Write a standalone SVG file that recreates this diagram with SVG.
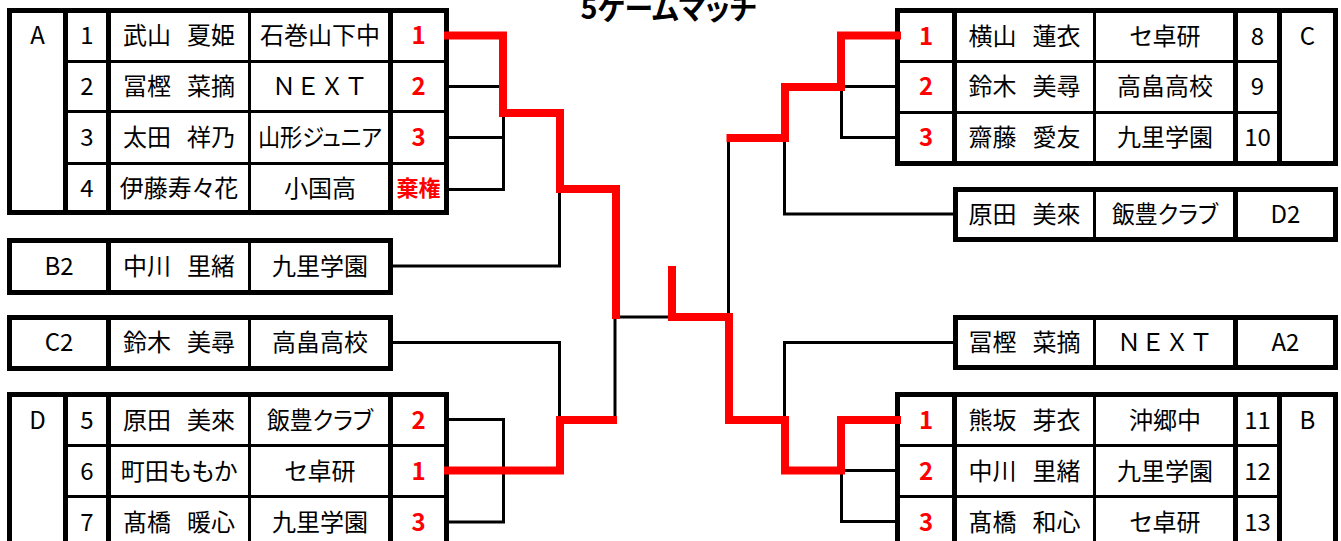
<svg xmlns="http://www.w3.org/2000/svg" width="1341" height="541" viewBox="0 0 1341 541">
<style>
text{font-family:"Noto Sans CJK JP","Noto Sans",sans-serif;font-size:24px;text-anchor:middle;fill:#000;font-feature-settings:"palt" 1;}
.s{fill:#ff0000;font-weight:bold;}
.k{font-size:22px;}
.fw{font-feature-settings:normal;}
.ttl{font-size:30px;font-weight:bold;}
.sp{font-size:16px;}
.b5{stroke:#000;stroke-width:5;fill:#fff;}
.l5{stroke:#000;stroke-width:5;fill:none;}
.l3{stroke:#000;stroke-width:3;fill:none;}
.con path{stroke:#000;stroke-width:3;fill:none;stroke-linejoin:miter;stroke-linecap:butt;}
.win path{stroke:#ff0000;stroke-width:8;fill:none;stroke-linejoin:miter;stroke-linecap:butt;}
</style>
<rect width="1341" height="541" fill="#fff"/>
<text id="title" class="ttl" x="668.5" y="19" textLength="176" lengthAdjust="spacingAndGlyphs">5ゲームマッチ</text>

<g id="table-A">
<rect class="b5" x="9.5" y="10.5" width="437" height="202"/>
<path class="l5" d="M65.5 10.5V212.5M108.5 10.5V212.5M390.5 10.5V212.5"/>
<path class="l3" d="M249.5 10.5V212.5M65.5 61.5H446.5M65.5 111.5H446.5M65.5 163.5H446.5"/>
<text x="37.5" y="44">A</text>
<text x="87" y="44">1</text><text x="179" y="44">武山<tspan class="sp">　</tspan>夏姫</text><text x="320" y="44">石巻山下中</text><text class="s" x="418.5" y="44">1</text>
<text x="87" y="95">2</text><text x="179" y="95">冨樫<tspan class="sp">　</tspan>菜摘</text><text class="fw" x="320" y="95">ＮＥＸＴ</text><text class="s" x="418.5" y="95">2</text>
<text x="87" y="146">3</text><text x="179" y="146">太田<tspan class="sp">　</tspan>祥乃</text><text x="320" y="146" textLength="124" lengthAdjust="spacingAndGlyphs">山形ジュニア</text><text class="s" x="418.5" y="146">3</text>
<text x="87" y="196.5">4</text><text x="179" y="196.5">伊藤寿々花</text><text x="320" y="196.5">小国高</text><text class="s k" x="418.5" y="196">棄権</text>
</g>

<g id="table-B2">
<rect class="b5" x="9.5" y="240.5" width="381" height="52"/>
<path class="l5" d="M108.5 240.5V292.5"/>
<path class="l3" d="M249.5 240.5V292.5"/>
<text x="59" y="274.5">B2</text><text x="179" y="274.5">中川<tspan class="sp">　</tspan>里緒</text><text x="320" y="274.5">九里学園</text>
</g>

<g id="table-C2">
<rect class="b5" x="9.5" y="317.5" width="381" height="51"/>
<path class="l5" d="M108.5 317.5V368.5"/>
<path class="l3" d="M249.5 317.5V368.5"/>
<text x="59" y="351">C2</text><text x="179" y="351">鈴木<tspan class="sp">　</tspan>美尋</text><text x="320" y="351">高畠高校</text>
</g>

<g id="table-D">
<rect class="b5" x="9.5" y="394.5" width="437" height="170"/>
<path class="l5" d="M65.5 394.5V564.5M108.5 394.5V564.5M390.5 394.5V564.5"/>
<path class="l3" d="M249.5 394.5V564.5M65.5 445.5H446.5M65.5 496.5H446.5"/>
<text x="37.5" y="428.5">D</text>
<text x="87" y="428.5">5</text><text x="179" y="428.5">原田<tspan class="sp">　</tspan>美來</text><text x="320" y="428.5" textLength="106" lengthAdjust="spacingAndGlyphs">飯豊クラブ</text><text class="s" x="418.5" y="428.5">2</text>
<text x="87" y="479.5">6</text><text x="179" y="479.5">町田ももか</text><text x="320" y="479.5">セ卓研</text><text class="s" x="418.5" y="479.5">1</text>
<text x="87" y="530.5">7</text><text x="179" y="530.5">髙橋<tspan class="sp">　</tspan>暖心</text><text x="320" y="530.5">九里学園</text><text class="s" x="418.5" y="530.5">3</text>
</g>

<g id="table-C">
<rect class="b5" x="897.5" y="10.5" width="438" height="153"/>
<path class="l5" d="M954.5 10.5V163.5M1235.5 10.5V163.5M1279.5 10.5V163.5"/>
<path class="l3" d="M1094.5 10.5V163.5M897.5 61.5H1279.5M897.5 112.5H1279.5"/>
<text class="s" x="926" y="44.5">1</text><text x="1024.5" y="44.5">横山<tspan class="sp">　</tspan>蓮衣</text><text x="1165" y="44.5">セ卓研</text><text x="1257.5" y="44.5">8</text><text x="1307.5" y="44.5">C</text>
<text class="s" x="926" y="95">2</text><text x="1024.5" y="95">鈴木<tspan class="sp">　</tspan>美尋</text><text x="1165" y="95">高畠高校</text><text x="1257.5" y="95">9</text>
<text class="s" x="926" y="146">3</text><text x="1024.5" y="146">齋藤<tspan class="sp">　</tspan>愛友</text><text x="1165" y="146">九里学園</text><text x="1257.5" y="146">10</text>
</g>

<g id="table-D2">
<rect class="b5" x="955.5" y="189.5" width="380" height="50"/>
<path class="l5" d="M1235.5 189.5V239.5"/>
<path class="l3" d="M1094.5 189.5V239.5"/>
<text x="1024.5" y="223">原田<tspan class="sp">　</tspan>美來</text><text x="1165" y="223" textLength="106" lengthAdjust="spacingAndGlyphs">飯豊クラブ</text><text x="1285.5" y="223">D2</text>
</g>

<g id="table-A2">
<rect class="b5" x="955.5" y="317.5" width="380" height="50"/>
<path class="l5" d="M1235.5 317.5V367.5"/>
<path class="l3" d="M1094.5 317.5V367.5"/>
<text x="1024.5" y="351">冨樫<tspan class="sp">　</tspan>菜摘</text><text class="fw" x="1165" y="351">ＮＥＸＴ</text><text x="1285.5" y="351">A2</text>
</g>

<g id="table-B">
<rect class="b5" x="897.5" y="394.5" width="438" height="170"/>
<path class="l5" d="M954.5 394.5V564.5M1235.5 394.5V564.5M1279.5 394.5V564.5"/>
<path class="l3" d="M1094.5 394.5V564.5M897.5 445.5H1279.5M897.5 496.5H1279.5"/>
<text class="s" x="926" y="428.5">1</text><text x="1024.5" y="428.5">熊坂<tspan class="sp">　</tspan>芽衣</text><text x="1165" y="428.5">沖郷中</text><text x="1257.5" y="428.5">11</text><text x="1307.5" y="428.5">B</text>
<text class="s" x="926" y="479.5">2</text><text x="1024.5" y="479.5">中川<tspan class="sp">　</tspan>里緒</text><text x="1165" y="479.5">九里学園</text><text x="1257.5" y="479.5">12</text>
<text class="s" x="926" y="530.5">3</text><text x="1024.5" y="530.5">髙橋<tspan class="sp">　</tspan>和心</text><text x="1165" y="530.5">セ卓研</text><text x="1257.5" y="530.5">13</text>
</g>

<g id="connectors">
<g class="con">
<path d="M449 86.5H503"/>
<path d="M449 137.5H503.5M449 189.5H503.5V113"/>
<path d="M393 266H559.5V189"/>
<path d="M393 342.5H559.5V420"/>
<path d="M449 419.5H503.5V522H449"/>
<path d="M615 319V420"/>
<path d="M616 317H668"/>
<path d="M728.5 141V313"/>
<path d="M845 86.5H896"/>
<path d="M896 137.5H841.5V88"/>
<path d="M953 214H784.5V141"/>
<path d="M953 342.5H784.5V416"/>
<path d="M896 470.5H841.5V521.5H896"/>
</g>
<g class="win">
<path d="M444 35.5H503V113H560V189H616V319"/>
<path d="M444 470.5H560V420H617"/>
<path d="M672 266V317H729V420H785V470.5H841V420H901"/>
<path d="M901 35.5H841V87H785V138H726.5"/>
</g>
</g>
</svg>
